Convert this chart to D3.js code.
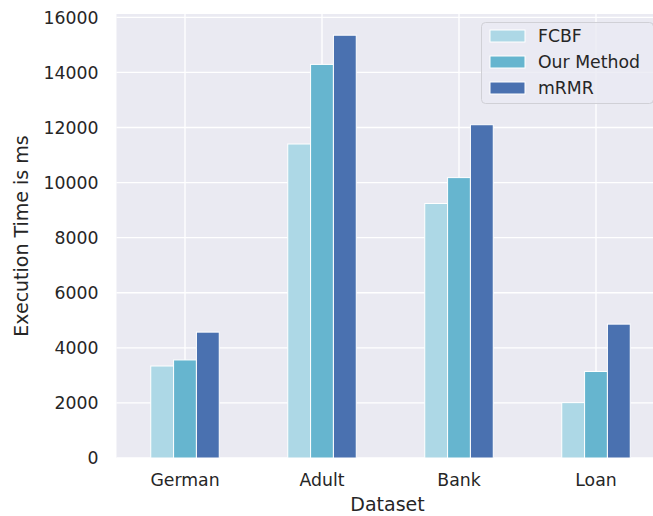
<!DOCTYPE html>
<html>
<head>
<meta charset="utf-8">
<script src="https://cdn.jsdelivr.net/npm/d3@7"></script>
<style>
  body { margin: 0; background: #fff; }
  svg { display: block; font-family: "DejaVu Sans", sans-serif; }
</style>
</head>
<body>
<div class="chart"></div>
<script>
const datasets = ['German', 'Adult', 'Bank', 'Loan'];
const methods = ['FCBF', 'Our Method', 'mRMR'];
const fcbf = [3340, 11400, 9240, 2010];
const ourMethod = [3560, 14290, 10180, 3140];
const mrmr = [4570, 15350, 12100, 4860];
const yTicks = [0, 2000, 4000, 6000, 8000, 10000, 12000, 14000, 16000];

(function() {
  'use strict';

  let width = 653,
      height = 516,
      left = 116.5,
      top = 14,
      bottom = 458,
      step = 137,
      colors = ['#add8e6', '#66b5cf', '#4a71b0'],
      series = [fcbf, ourMethod, mrmr],

      svg = d3.select('.chart')
        .append('svg')
        .attr('width', width)
        .attr('height', height),

      x = d3.scaleBand()
        .domain(datasets)
        .range([left, left + step * datasets.length]),

      xSub = d3.scaleBand()
        .domain(methods)
        .range([x.bandwidth() * 0.25, x.bandwidth() * 0.75]),

      y = d3.scaleLinear()
        .domain([0, 16120])
        .range([bottom, top]);

  // plot background
  svg.append('rect')
    .attr('x', left)
    .attr('y', top)
    .attr('width', width - left)
    .attr('height', bottom - top)
    .attr('fill', '#eaeaf2');

  // grid
  svg.append('g')
    .selectAll('line')
    .data(yTicks)
    .enter()
    .append('line')
      .attr('x1', left).attr('x2', width)
      .attr('y1', d => y(d)).attr('y2', d => y(d))
      .attr('stroke', '#fff')
      .attr('stroke-width', 1.3);

  svg.append('g')
    .selectAll('line')
    .data(datasets)
    .enter()
    .append('line')
      .attr('x1', d => x(d) + x.bandwidth() / 2)
      .attr('x2', d => x(d) + x.bandwidth() / 2)
      .attr('y1', top).attr('y2', bottom)
      .attr('stroke', '#fff')
      .attr('stroke-width', 1.3);

  // bars
  methods.forEach((m, i) => {
    svg.append('g')
      .selectAll('rect')
      .data(datasets.map((d, j) => ({ d: d, v: series[i][j] })))
      .enter()
      .append('rect')
        .attr('x', d => x(d.d) + xSub(m))
        .attr('y', d => y(d.v))
        .attr('width', xSub.bandwidth())
        .attr('height', d => bottom - y(d.v))
        .attr('fill', colors[i])
        .attr('stroke', '#fff')
        .attr('stroke-width', 1);
  });

  // y tick labels
  svg.append('g')
    .selectAll('text')
    .data(yTicks)
    .enter()
    .append('text')
      .attr('x', left - 18)
      .attr('y', d => y(d))
      .attr('dy', '0.36em')
      .attr('text-anchor', 'end')
      .attr('font-size', 17.3)
      .attr('fill', '#262626')
      .text(d => d);

  // x tick labels
  svg.append('g')
    .selectAll('text')
    .data(datasets)
    .enter()
    .append('text')
      .attr('x', d => x(d) + x.bandwidth() / 2)
      .attr('y', 486)
      .attr('text-anchor', 'middle')
      .attr('font-size', 17.3)
      .attr('fill', '#262626')
      .text(d => d);

  // axis labels
  svg.append('text')
    .attr('x', (left + x.range()[1]) / 2 - 3)
    .attr('y', 511)
    .attr('text-anchor', 'middle')
    .attr('font-size', 19)
    .attr('fill', '#262626')
    .text('Dataset');

  svg.append('text')
    .attr('transform', `translate(28, ${(top + bottom) / 2}) rotate(-90)`)
    .attr('text-anchor', 'middle')
    .attr('font-size', 19)
    .attr('fill', '#262626')
    .text('Execution Time is ms');

  // legend
  let legend = svg.append('g');
  legend.append('rect')
    .attr('x', 481.5).attr('y', 22.5)
    .attr('width', 172).attr('height', 81)
    .attr('rx', 4)
    .attr('fill', '#eaeaf2')
    .attr('fill-opacity', 0.8)
    .attr('stroke', '#d0d0d6');

  methods.forEach((m, i) => {
    let cy = 36 + i * 26;
    legend.append('rect')
      .attr('x', 490).attr('y', cy - 6)
      .attr('width', 35).attr('height', 12)
      .attr('fill', colors[i])
      .attr('stroke', '#fff');
    legend.append('text')
      .attr('x', 538).attr('y', cy)
      .attr('dy', '0.36em')
      .attr('font-size', 17.3)
      .attr('fill', '#262626')
      .text(m);
  });

})();
</script>
</body>
</html>
